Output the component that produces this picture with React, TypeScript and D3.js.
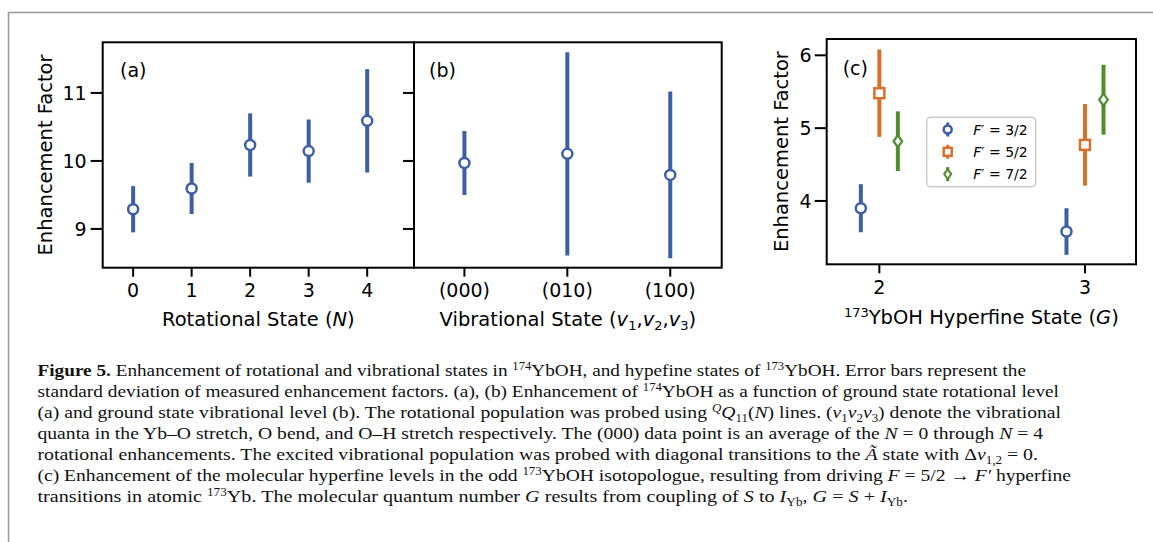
import React from "react";
import * as d3 from "d3";

// ---------- data ----------
const rotStates = [0, 1, 2, 3, 4];
const rotMean = [9.29, 9.595, 10.235, 10.145, 10.59];
const rotErr = [0.34, 0.375, 0.465, 0.465, 0.76];

const vibLabels = ["(000)", "(010)", "(100)"];
const vibMean = [9.97, 10.105, 9.795];
const vibErr = [0.47, 1.495, 1.225];

const hfStates = [2, 3];
const hfSeries = ["F32", "F52", "F72"];
const hfLegend = ["3/2", "5/2", "7/2"];
const hfOffsets = [-0.09, 0, 0.09];
const hf32Mean = [3.9, 3.58];
const hf32Err = [0.33, 0.32];
const hf52Mean = [5.48, 4.77];
const hf52Err = [0.6, 0.56];
const hf72Mean = [4.82, 5.39];
const hf72Err = [0.41, 0.48];

const yTicksAB = [9, 10, 11];
const yTicksC = [4, 5, 6];

// ---------- styles ----------
const BLUE = "#3d5fa5";
const ORANGE = "#d8702a";
const GREEN = "#4e8e2b";
const SANS = "DejaVu Sans";
const SERIF = "Liberation Serif";
const TICK_FS = 19;
const LAB_FS = 19.5;

const A = { x0: 102.7, x1: 414, y0: 42.3, y1: 267.7 };
const B = { x0: 414, x1: 721.7, y0: 42.3, y1: 267.7 };
const C = { x0: 826.7, x1: 1136, y0: 39, y1: 264.3 };

const yAB = d3.scaleLinear().domain([8.43, 11.745]).range([A.y1, A.y0]);
const xA = d3.scaleLinear().domain([-0.52, 4.8]).range([A.x0, A.x1]);
const xB = d3.scaleLinear().domain([-0.49, 2.5]).range([B.x0, B.x1]);
const xC = d3.scaleLinear().domain([1.744, 3.248]).range([C.x0, C.x1]);
const yC = d3.scaleLinear().domain([3.13, 6.224]).range([C.y1, C.y0]);

type Seg = [string, string?];
const caption: Seg[][] = [
  [["Figure 5.", "b"], [" Enhancement of rotational and vibrational states in "], ["174", "sup"], ["YbOH, and hypefine states of "], ["173", "sup"], ["YbOH. Error bars represent the"]],
  [["standard deviation of measured enhancement factors. (a), (b) Enhancement of "], ["174", "sup"], ["YbOH as a function of ground state rotational level"]],
  [["(a) and ground state vibrational level (b). The rotational population was probed using "], ["Q", "supi"], ["Q", "i"], ["11", "sub"], ["("], ["N", "i"], [") lines. ("], ["ν", "i"], ["1", "sub"], ["ν", "i"], ["2", "sub"], ["ν", "i"], ["3", "sub"], [") denote the vibrational"]],
  [["quanta in the Yb–O stretch, O bend, and O–H stretch respectively. The (000) data point is an average of the "], ["N", "i"], [" = 0 through "], ["N", "i"], [" = 4"]],
  [["rotational enhancements. The excited vibrational population was probed with diagonal transitions to the "], ["Ã", "i"], [" state with Δ"], ["ν", "i"], ["1,2", "sub"], [" = 0."]],
  [["(c) Enhancement of the molecular hyperfine levels in the odd "], ["173", "sup"], ["YbOH isotopologue, resulting from driving "], ["F", "i"], [" = 5/2 → "], ["F′", "i"], [" hyperfine"]],
  [["transitions in atomic "], ["173", "sup"], ["Yb. The molecular quantum number "], ["G", "i"], [" results from coupling of "], ["S", "i"], [" to "], ["I", "i"], ["Yb", "sub"], [", "], ["G", "i"], [" = "], ["S", "i"], [" + "], ["I", "i"], ["Yb", "sub"], ["."]],
];
const captionEnds = [1026, 1059, 1061, 1043, 1038, 1071, 908];

function CaptionLine({ segs, y, end }: { segs: Seg[]; y: number; end: number }) {
  let cur = 0;
  const parts = segs.map(([t, s], i) => {
    const st = s || "n";
    let target = 0;
    if (st === "sup" || st === "supi") target = -6;
    if (st === "sub") target = 4;
    const dy = target - cur;
    cur = target;
    const small = st === "sup" || st === "supi" || st === "sub";
    return (
      <tspan
        key={i}
        dy={dy}
        fontWeight={st === "b" ? "bold" : "normal"}
        fontStyle={st === "i" || st === "supi" ? "italic" : "normal"}
        fontSize={small ? 11.5 : 17.5}
      >
        {t}
      </tspan>
    );
  });
  return (
    <text x={37.5} y={y} fontFamily={SERIF} fontSize={17.5} fill="#111" textLength={end - 37.5} lengthAdjust="spacingAndGlyphs">
      {parts}
    </text>
  );
}

function ErrPoint({ x, y, lo, hi, color, shape }: { x: number; y: number; lo: number; hi: number; color: string; shape: string }) {
  return (
    <g>
      <line x1={x} x2={x} y1={lo} y2={hi} stroke={color} strokeWidth={4} />
      {shape === "circle" && <circle cx={x} cy={y} r={5} fill="white" stroke={color} strokeWidth={2.5} />}
      {shape === "square" && <rect x={x - 5} y={y - 5} width={10} height={10} fill="white" stroke={color} strokeWidth={2.5} />}
      {shape === "diamond" && (
        <path d={`M${x},${y - 6}L${x + 4.3},${y}L${x},${y + 6}L${x - 4.3},${y}Z`} fill="white" stroke={color} strokeWidth={2.2} />
      )}
    </g>
  );
}

function Frame({ p }: { p: { x0: number; x1: number; y0: number; y1: number } }) {
  return <rect x={p.x0} y={p.y0} width={p.x1 - p.x0} height={p.y1 - p.y0} fill="none" stroke="#000" strokeWidth={2} />;
}

export default function App() {
  const hfMeans = [hf32Mean, hf52Mean, hf72Mean];
  const hfErrs = [hf32Err, hf52Err, hf72Err];
  const hfColors = [BLUE, ORANGE, GREEN];
  const hfShapes = ["circle", "square", "diamond"];

  return (
    <svg width={1153} height={542} style={{ position: "absolute", left: 0, top: 0, background: "white" }}>
      {/* outer page frame */}
      <path d="M8.5,542V12.5H1153" fill="none" stroke="#9a9a9a" strokeWidth={1.5} />

      {/* ---------- panel (a) ---------- */}
      {yTicksAB.map((t) => (
        <g key={"ya" + t}>
          <line x1={A.x0 - 12} x2={A.x0} y1={yAB(t)} y2={yAB(t)} stroke="#000" strokeWidth={2} />
          <text x={A.x0 - 16} y={yAB(t)} dy="0.36em" textAnchor="end" fontFamily={SANS} fontSize={TICK_FS}>
            {t}
          </text>
        </g>
      ))}
      {rotStates.map((t) => (
        <g key={"xa" + t}>
          <line x1={xA(t)} x2={xA(t)} y1={A.y1} y2={A.y1 + 9} stroke="#000" strokeWidth={2} />
          <text x={xA(t)} y={297} textAnchor="middle" fontFamily={SANS} fontSize={TICK_FS}>
            {t}
          </text>
        </g>
      ))}
      {rotStates.map((t, i) => (
        <ErrPoint key={"pa" + i} x={xA(t)} y={yAB(rotMean[i])} lo={yAB(rotMean[i] - rotErr[i])} hi={yAB(rotMean[i] + rotErr[i])} color={BLUE} shape="circle" />
      ))}
      <text x={120} y={77} fontFamily={SANS} fontSize={TICK_FS}>(a)</text>
      <text x={(A.x0 + A.x1) / 2} y={326} textAnchor="middle" fontFamily={SANS} fontSize={LAB_FS}>
        Rotational State (<tspan fontStyle="italic">N</tspan>)
      </text>
      <text transform={`translate(52,${(A.y0 + A.y1) / 2}) rotate(-90)`} textAnchor="middle" fontFamily={SANS} fontSize={LAB_FS}>
        Enhancement Factor
      </text>

      {/* ---------- panel (b) ---------- */}
      {yTicksAB.map((t) => (
        <line key={"yb" + t} x1={B.x0 - 11} x2={B.x0} y1={yAB(t)} y2={yAB(t)} stroke="#000" strokeWidth={2} />
      ))}
      {vibLabels.map((t, i) => (
        <g key={"xb" + t}>
          <line x1={xB(i)} x2={xB(i)} y1={B.y1} y2={B.y1 + 9} stroke="#000" strokeWidth={2} />
          <text x={xB(i)} y={297} textAnchor="middle" fontFamily={SANS} fontSize={TICK_FS}>
            {t}
          </text>
        </g>
      ))}
      {vibLabels.map((t, i) => (
        <ErrPoint key={"pb" + i} x={xB(i)} y={yAB(vibMean[i])} lo={yAB(vibMean[i] - vibErr[i])} hi={yAB(vibMean[i] + vibErr[i])} color={BLUE} shape="circle" />
      ))}
      <text x={429} y={77} fontFamily={SANS} fontSize={TICK_FS}>(b)</text>
      <text x={(B.x0 + B.x1) / 2} y={326} textAnchor="middle" fontFamily={SANS} fontSize={LAB_FS}>
        Vibrational State (<tspan fontStyle="italic">v</tspan>
        <tspan fontSize={13} dy={4}>1</tspan>
        <tspan dy={-4}>,</tspan>
        <tspan fontStyle="italic">v</tspan>
        <tspan fontSize={13} dy={4}>2</tspan>
        <tspan dy={-4}>,</tspan>
        <tspan fontStyle="italic">v</tspan>
        <tspan fontSize={13} dy={4}>3</tspan>
        <tspan dy={-4}>)</tspan>
      </text>

      <Frame p={A} />
      <Frame p={B} />

      {/* ---------- panel (c) ---------- */}
      {yTicksC.map((t) => (
        <g key={"yc" + t}>
          <line x1={C.x0 - 12} x2={C.x0} y1={yC(t)} y2={yC(t)} stroke="#000" strokeWidth={2} />
          <text x={C.x0 - 15} y={yC(t)} dy="0.36em" textAnchor="end" fontFamily={SANS} fontSize={TICK_FS}>
            {t}
          </text>
        </g>
      ))}
      {hfStates.map((t) => (
        <g key={"xc" + t}>
          <line x1={xC(t)} x2={xC(t)} y1={C.y1} y2={C.y1 + 9} stroke="#000" strokeWidth={2} />
          <text x={xC(t)} y={294} textAnchor="middle" fontFamily={SANS} fontSize={TICK_FS}>
            {t}
          </text>
        </g>
      ))}
      {hfSeries.map((s, k) =>
        hfStates.map((g, i) => (
          <ErrPoint
            key={s + i}
            x={xC(g + hfOffsets[k])}
            y={yC(hfMeans[k][i])}
            lo={yC(hfMeans[k][i] - hfErrs[k][i])}
            hi={yC(hfMeans[k][i] + hfErrs[k][i])}
            color={hfColors[k]}
            shape={hfShapes[k]}
          />
        ))
      )}
      <text x={842.7} y={75} fontFamily={SANS} fontSize={TICK_FS}>(c)</text>
      <text x={(C.x0 + C.x1) / 2} y={324} textAnchor="middle" fontFamily={SANS} fontSize={LAB_FS}>
        <tspan fontSize={13} dy={-7}>173</tspan>
        <tspan dy={7}>YbOH Hyperfine State (</tspan>
        <tspan fontStyle="italic">G</tspan>)
      </text>
      <text transform={`translate(788,${(C.y0 + C.y1) / 2}) rotate(-90)`} textAnchor="middle" fontFamily={SANS} fontSize={LAB_FS}>
        Enhancement Factor
      </text>

      {/* legend */}
      <rect x={926.7} y={117.3} width={109} height={69.4} rx={4} fill="white" fillOpacity={0.8} stroke="#cccccc" strokeWidth={1.5} />
      {hfSeries.map((s, k) => {
        const ly = 129.5 + k * 22.3;
        const lx = 947.7;
        return (
          <g key={"lg" + s}>
            <line x1={lx} x2={lx} y1={ly - 7} y2={ly + 7} stroke={hfColors[k]} strokeWidth={3} />
            {k === 0 && <circle cx={lx} cy={ly} r={4} fill="white" stroke={hfColors[k]} strokeWidth={2.5} />}
            {k === 1 && <rect x={lx - 4} y={ly - 4} width={8} height={8} fill="white" stroke={hfColors[k]} strokeWidth={2.5} />}
            {k === 2 && <path d={`M${lx},${ly - 5}L${lx + 3.5},${ly}L${lx},${ly + 5}L${lx - 3.5},${ly}Z`} fill="white" stroke={hfColors[k]} strokeWidth={2} />}
            <text x={973.3} y={ly + 5} fontFamily={SANS} fontSize={14}>
              <tspan fontStyle="italic">F</tspan>′ = {hfLegend[k]}
            </text>
          </g>
        );
      })}
      <Frame p={C} />

      {/* caption */}
      {caption.map((segs, i) => (
        <CaptionLine key={"cap" + i} segs={segs} y={376 + i * 21} end={captionEnds[i]} />
      ))}
    </svg>
  );
}
